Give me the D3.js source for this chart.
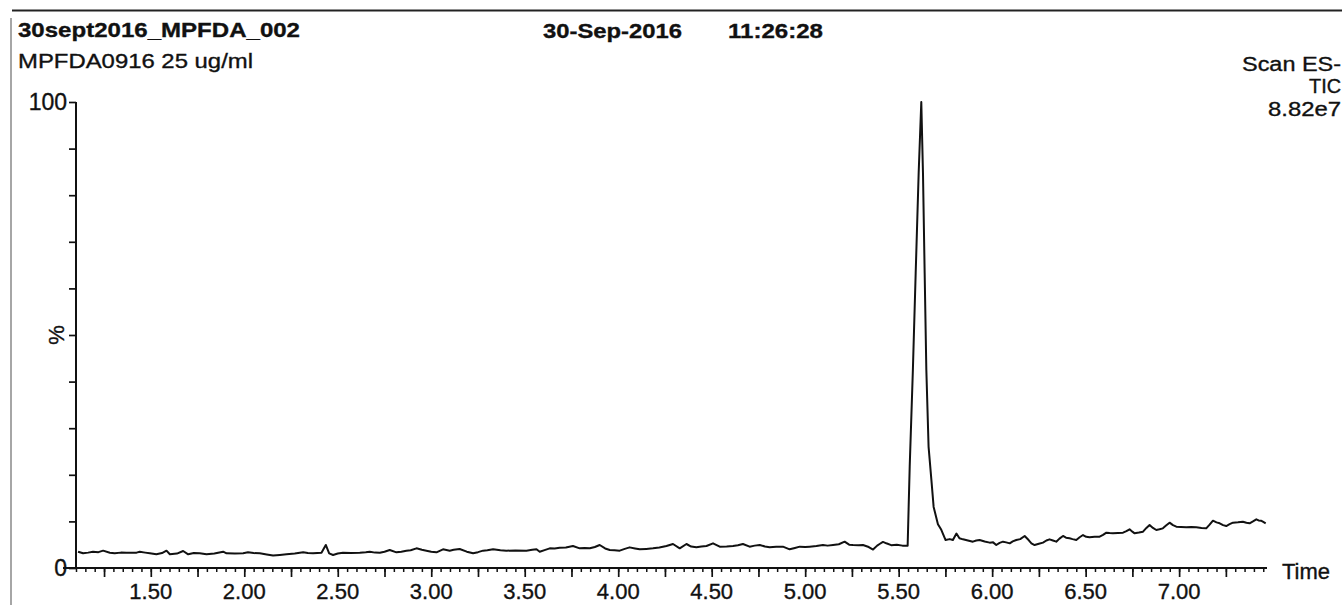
<!DOCTYPE html>
<html>
<head>
<meta charset="utf-8">
<script src="https://cdn.jsdelivr.net/npm/d3@7"></script>
<style>
  body { margin: 0; background: #fff; }
  svg text { font-family: "Liberation Sans", Arial, sans-serif; fill: #111; stroke: #111; stroke-width: 0.35px; }
</style>
</head>
<body>
<div id="chart"></div>
<script>
// retention time (min), relative intensity (%)
const preBaseline = [
  [1.111,3.50],[1.138,3.15],[1.165,3.3],[1.191,3.50],[1.220,3.4],[1.245,3.72],[1.281,3.29],[1.307,3.15],
  [1.340,3.3],[1.370,3.29],[1.400,3.25],[1.424,3.29],[1.441,3.50],[1.470,3.3],[1.495,3.15],[1.530,2.94],
  [1.560,3.2],[1.584,3.72],[1.602,2.94],[1.640,3.1],[1.673,3.65],[1.700,2.94],[1.730,3.2],[1.762,3.15],
  [1.798,2.94],[1.840,3.1],[1.887,3.50],[1.905,3.15],[1.950,3.1],[1.994,3.15],[2.020,3.36],[2.050,3.2],
  [2.083,3.15],[2.120,2.9],[2.154,2.66],[2.190,2.8],[2.226,2.94],[2.270,3.1],[2.315,3.36],[2.340,3.2],
  [2.368,3.15],[2.413,3.29],[2.436,4.94],[2.454,3.15],[2.475,2.8],[2.500,3.1],[2.528,3.29],[2.570,3.2],
  [2.618,3.29],[2.650,3.4],[2.671,3.50],[2.700,3.3],[2.725,3.29],[2.750,3.5],[2.778,3.86],[2.814,3.36],
  [2.840,3.5],[2.867,3.72],[2.890,3.8],[2.921,4.22],[2.950,3.9],[2.974,3.72],[3.000,3.5],[3.028,3.36],
  [3.063,4.01],[3.099,3.72],[3.120,3.9],[3.152,4.08],[3.190,3.5],[3.224,3.15],[3.250,3.4],[3.277,3.72],
  [3.300,3.8],[3.331,4.01],[3.370,3.8],[3.402,3.72],[3.450,3.75],[3.509,3.72],[3.540,3.9],[3.563,4.01],
  [3.580,3.50],[3.610,3.9],[3.634,4.22],[3.660,4.2],[3.687,4.36],[3.720,4.4],[3.758,4.72],[3.794,4.22],
  [3.820,4.3],[3.848,4.22],[3.875,4.5],[3.901,4.94],[3.930,4.2],[3.955,3.86],[3.980,3.8],[4.008,3.72],
  [4.035,4.1],[4.061,4.43],[4.090,4.2],[4.115,4.01],[4.150,4.1],[4.186,4.22],[4.220,4.4],[4.258,4.72],
  [4.293,5.15],[4.329,4.22],[4.365,5.15],[4.390,4.6],[4.418,4.43],[4.445,4.6],[4.472,4.72],[4.507,5.29],
  [4.543,4.58],[4.580,4.6],[4.614,4.72],[4.640,4.9],[4.667,5.15],[4.703,4.58],[4.730,4.8],[4.757,4.94],
  [4.785,4.6],[4.810,4.43],[4.845,4.55],[4.881,4.58],[4.917,4.01],[4.945,4.3],[4.971,4.58],[5.000,4.5],
  [5.024,4.58],[5.060,4.7],[5.095,4.94],[5.120,4.8],[5.149,4.94],[5.180,5.1],[5.211,5.65],[5.235,5.0],
  [5.256,4.94],[5.285,4.9],[5.309,4.94],[5.340,4.5],[5.363,3.95],[5.385,4.8],[5.398,5.15],[5.416,5.6],
  [5.434,5.3],[5.460,4.9],[5.490,5.0],[5.520,4.8],[5.548,4.8]
];

const peakPoints = [
  [5.559,21.7],[5.576,42.5],[5.591,63.3],[5.607,84.8],[5.621,100],
  [5.630,84.8],[5.639,63.3],[5.648,42.5],[5.660,26.0],[5.675,18.9],[5.687,13.1],
  [5.710,9.4],[5.728,8.2],[5.751,6.0]
];

const postBaseline = [
  [5.773,6.2],[5.790,6.0],[5.809,7.4],[5.825,6.4],[5.844,6.15],[5.870,5.9],[5.897,5.65],[5.915,5.9],
  [5.933,6.01],[5.960,5.7],[5.987,5.44],[6.005,5.5],[6.022,4.93],[6.040,5.4],[6.058,5.65],[6.075,5.5],
  [6.094,5.29],[6.110,5.7],[6.129,6.01],[6.150,6.2],[6.174,6.87],[6.195,6.0],[6.210,5.3],[6.227,4.93],
  [6.250,5.2],[6.272,5.44],[6.290,5.9],[6.307,6.15],[6.325,5.9],[6.343,5.65],[6.360,6.3],[6.379,6.87],
  [6.395,6.5],[6.414,6.37],[6.430,6.2],[6.450,6.01],[6.468,6.6],[6.486,7.08],[6.503,6.7],[6.521,6.58],
  [6.548,6.7],[6.575,6.72],[6.593,7.1],[6.611,7.58],[6.628,7.5],[6.646,7.44],[6.673,7.5],[6.700,7.58],
  [6.718,7.9],[6.735,8.30],[6.750,7.8],[6.762,7.44],[6.785,7.6],[6.807,7.80],[6.825,8.6],[6.842,9.23],
  [6.860,8.6],[6.878,8.15],[6.895,8.3],[6.913,8.51],[6.930,9.1],[6.949,9.73],[6.967,9.2],[6.985,8.87],
  [7.010,8.8],[7.038,8.73],[7.065,8.8],[7.092,8.73],[7.120,8.6],[7.145,8.51],[7.163,9.3],[7.181,10.16],
  [7.200,9.8],[7.217,9.59],[7.235,9.2],[7.252,9.01],[7.270,9.4],[7.288,9.73],[7.315,9.8],[7.341,9.94],
  [7.360,9.7],[7.377,9.59],[7.395,10.0],[7.413,10.44],[7.425,10.2],[7.438,10.16],[7.450,9.9],[7.463,9.59]
];

const xMinorTicks = d3.range(22, 150).map((i) => i / 20);   // every 0.05 min
const xMajorTicks = d3.range(5, 30).map((i) => i / 4);      // every 0.25 min
const xLabels = ["1.50","2.00","2.50","3.00","3.50","4.00","4.50","5.00","5.50","6.00","6.50","7.00"];
const yTicks = d3.range(0, 101, 10);
const yLabels = ["0", "100"];

const headerLeft = ["30sept2016_MPFDA_002", "MPFDA0916 25 ug/ml"];
const headerDate = ["30-Sep-2016", "11:26:28"];
const headerRight = ["Scan ES-", "TIC", "8.82e7"];

const svgWidth = 1342;
const svgHeight = 605;

const svg = d3
  .select("#chart")
  .append("svg")
  .attr("width", svgWidth)
  .attr("height", svgHeight)
  .style("background", "#fff");

// scanned page frame bits
svg.append("line")
  .attr("x1", 12).attr("x2", svgWidth)
  .attr("y1", 10.5).attr("y2", 10.5)
  .attr("stroke", "#222").attr("stroke-width", 2);

svg.append("line")
  .attr("x1", 11).attr("x2", 11)
  .attr("y1", 18).attr("y2", svgHeight)
  .attr("stroke", "#888").attr("stroke-width", 1.5);

const x = d3.scaleLinear().domain([1.10, 7.47]).range([76, 1267]);
const y = d3.scaleLinear().domain([0, 100]).range([568, 102]);

// x axis: minor and major ticks
svg.append("g")
  .attr("transform", `translate(0,${y(0)})`)
  .call(d3.axisBottom(x).tickValues(xMinorTicks).tickSize(4).tickFormat(""))
  .call((g) => g.select(".domain").remove())
  .selectAll("line").attr("stroke", "#111").attr("stroke-width", 1.5);

svg.append("g")
  .attr("transform", `translate(0,${y(0)})`)
  .call(d3.axisBottom(x).tickValues(xMajorTicks).tickSize(9).tickFormat(""))
  .call((g) => g.select(".domain").remove())
  .selectAll("line").attr("stroke", "#111").attr("stroke-width", 1.7);

svg.append("line")
  .attr("x1", 63).attr("x2", x(7.47))
  .attr("y1", y(0)).attr("y2", y(0))
  .attr("stroke", "#111").attr("stroke-width", 2);

svg.selectAll("text.xlab")
  .data(xLabels)
  .join("text")
  .attr("class", "xlab")
  .attr("x", (d) => x(+d))
  .attr("y", 599)
  .attr("text-anchor", "middle")
  .style("font-size", "22px")
  .text((d) => d);

svg.append("text")
  .attr("x", 1282)
  .attr("y", 579)
  .style("font-size", "22px")
  .text("Time");

// y axis
svg.append("g")
  .attr("transform", `translate(${x(1.10)},0)`)
  .call(d3.axisLeft(y).tickValues(yTicks).tickSize(7).tickFormat(""))
  .call((g) => g.select(".domain").attr("stroke", "#111").attr("stroke-width", 2).attr("d", `M0,${y(100)}V${y(0)}`))
  .selectAll("line").attr("stroke", "#111").attr("stroke-width", 1.7);

svg.selectAll("text.ylab")
  .data(yLabels)
  .join("text")
  .attr("class", "ylab")
  .attr("x", 67)
  .attr("y", (d) => y(+d))
  .attr("dy", "0.36em")
  .attr("text-anchor", "end")
  .style("font-size", "23px")
  .text((d) => d);

svg.append("text")
  .attr("transform", `translate(64,${(y(0) + y(100)) / 2}) rotate(-90)`)
  .attr("text-anchor", "middle")
  .style("font-size", "22px")
  .text("%");

// chromatogram trace
const trace = preBaseline.concat(peakPoints, postBaseline);

const lineGenerator = d3
  .line()
  .x((d) => x(d[0]))
  .y((d) => y(d[1]));

svg.append("path")
  .datum(trace)
  .attr("fill", "none")
  .attr("stroke", "#111")
  .attr("stroke-width", 2)
  .attr("stroke-linejoin", "round")
  .attr("d", lineGenerator);

// header text
svg.append("text")
  .attr("x", 18).attr("y", 37)
  .attr("textLength", 282).attr("lengthAdjust", "spacingAndGlyphs")
  .style("font-size", "21px").style("font-weight", "bold")
  .text(headerLeft[0]);

svg.append("text")
  .attr("x", 18).attr("y", 68)
  .attr("textLength", 235).attr("lengthAdjust", "spacingAndGlyphs")
  .style("font-size", "21px")
  .text(headerLeft[1]);

svg.append("text")
  .attr("x", 543).attr("y", 38)
  .attr("textLength", 139).attr("lengthAdjust", "spacingAndGlyphs")
  .style("font-size", "21px").style("font-weight", "bold")
  .text(headerDate[0]);

svg.append("text")
  .attr("x", 728).attr("y", 38)
  .attr("textLength", 95).attr("lengthAdjust", "spacingAndGlyphs")
  .style("font-size", "21px").style("font-weight", "bold")
  .text(headerDate[1]);

const rightWidths = [99, 32, 73];
const rightBaselines = [70.5, 93, 115.5];
headerRight.forEach((t, i) => {
  svg.append("text")
    .attr("x", 1341)
    .attr("y", rightBaselines[i])
    .attr("text-anchor", "end")
    .attr("textLength", rightWidths[i]).attr("lengthAdjust", "spacingAndGlyphs")
    .style("font-size", "20px")
    .text(t);
});
</script>
</body>
</html>
